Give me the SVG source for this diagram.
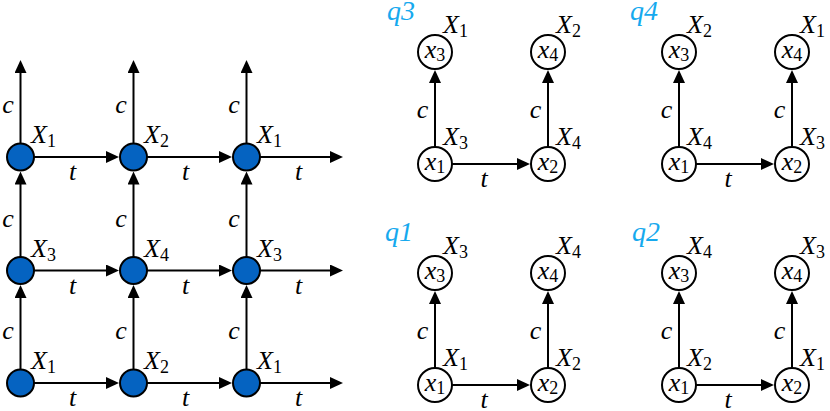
<svg xmlns="http://www.w3.org/2000/svg" width="830" height="411" viewBox="0 0 830 411">
<style>
.i{font-style:italic}
.m{text-anchor:middle}
.s{font-size:18px;font-style:normal}
.q{font-size:28px;font-style:italic;fill:#16a9ee}
.ln{stroke:#000;stroke-width:2;fill:none;marker-end:url(#ah)}
.bn{fill:#0563c1;stroke:#000;stroke-width:2}
.wn{fill:#fff;stroke:#000;stroke-width:2}
</style>
<defs>
<marker id="ah" viewBox="0 0 13 12" refX="7" refY="6" markerWidth="13" markerHeight="12" markerUnits="userSpaceOnUse" orient="auto"><path d="M0,0 L13,6 L0,12 z" fill="#000"/></marker>
</defs>
<g font-family="Liberation Serif, DejaVu Serif, serif" font-size="26" fill="#000">
<g id="connectors">
<line class="ln" x1="20.5" y1="157" x2="20.5" y2="66"/>
<line class="ln" x1="133.5" y1="157" x2="133.5" y2="66"/>
<line class="ln" x1="246.5" y1="157" x2="246.5" y2="66"/>
<line class="ln" x1="20.5" y1="270.5" x2="20.5" y2="177.5"/>
<line class="ln" x1="133.5" y1="270.5" x2="133.5" y2="177.5"/>
<line class="ln" x1="246.5" y1="270.5" x2="246.5" y2="177.5"/>
<line class="ln" x1="20.5" y1="383" x2="20.5" y2="291"/>
<line class="ln" x1="133.5" y1="383" x2="133.5" y2="291"/>
<line class="ln" x1="246.5" y1="383" x2="246.5" y2="291"/>
<line class="ln" x1="20.5" y1="157" x2="113" y2="157"/>
<line class="ln" x1="133.5" y1="157" x2="226" y2="157"/>
<line class="ln" x1="246.5" y1="157" x2="337" y2="157"/>
<line class="ln" x1="20.5" y1="270.5" x2="113" y2="270.5"/>
<line class="ln" x1="133.5" y1="270.5" x2="226" y2="270.5"/>
<line class="ln" x1="246.5" y1="270.5" x2="337" y2="270.5"/>
<line class="ln" x1="20.5" y1="383" x2="113" y2="383"/>
<line class="ln" x1="133.5" y1="383" x2="226" y2="383"/>
<line class="ln" x1="246.5" y1="383" x2="337" y2="383"/>
<line class="ln" x1="435" y1="147" x2="435" y2="76"/>
<line class="ln" x1="548" y1="147" x2="548" y2="76"/>
<line class="ln" x1="452" y1="164" x2="524" y2="164"/>
<line class="ln" x1="679" y1="147" x2="679" y2="76"/>
<line class="ln" x1="792" y1="147" x2="792" y2="76"/>
<line class="ln" x1="696" y1="164" x2="768" y2="164"/>
<line class="ln" x1="435" y1="368" x2="435" y2="297"/>
<line class="ln" x1="548" y1="368" x2="548" y2="297"/>
<line class="ln" x1="452" y1="385" x2="524" y2="385"/>
<line class="ln" x1="679" y1="368" x2="679" y2="297"/>
<line class="ln" x1="792" y1="368" x2="792" y2="297"/>
<line class="ln" x1="696" y1="385" x2="768" y2="385"/>
<text class="i m" x="8" y="113">c</text>
<text class="i m" x="121" y="113">c</text>
<text class="i m" x="234" y="113">c</text>
<text class="i m" x="8" y="226.5">c</text>
<text class="i m" x="121" y="226.5">c</text>
<text class="i m" x="234" y="226.5">c</text>
<text class="i m" x="8" y="339">c</text>
<text class="i m" x="121" y="339">c</text>
<text class="i m" x="234" y="339">c</text>
<text class="i m" x="72.5" y="180">t</text>
<text class="i m" x="185.5" y="180">t</text>
<text class="i m" x="298.5" y="180">t</text>
<text class="i m" x="72.5" y="293.5">t</text>
<text class="i m" x="185.5" y="293.5">t</text>
<text class="i m" x="298.5" y="293.5">t</text>
<text class="i m" x="72.5" y="406">t</text>
<text class="i m" x="185.5" y="406">t</text>
<text class="i m" x="298.5" y="406">t</text>
<text class="i m" x="422.5" y="118">c</text>
<text class="i m" x="535.5" y="118">c</text>
<text class="i m" x="484" y="187">t</text>
<text class="i m" x="666.5" y="118">c</text>
<text class="i m" x="779.5" y="118">c</text>
<text class="i m" x="728" y="187">t</text>
<text class="i m" x="422.5" y="339">c</text>
<text class="i m" x="535.5" y="339">c</text>
<text class="i m" x="484" y="408">t</text>
<text class="i m" x="666.5" y="339">c</text>
<text class="i m" x="779.5" y="339">c</text>
<text class="i m" x="728" y="408">t</text>
</g>
<g id="g00"><circle class="bn" cx="20.5" cy="157" r="13.5"/><text class="i" x="31" y="143">X<tspan class="s" dy="4">1</tspan></text></g>
<g id="g01"><circle class="bn" cx="133.5" cy="157" r="13.5"/><text class="i" x="144" y="143">X<tspan class="s" dy="4">2</tspan></text></g>
<g id="g02"><circle class="bn" cx="246.5" cy="157" r="13.5"/><text class="i" x="257" y="143">X<tspan class="s" dy="4">1</tspan></text></g>
<g id="g10"><circle class="bn" cx="20.5" cy="270.5" r="13.5"/><text class="i" x="31" y="256.5">X<tspan class="s" dy="4">3</tspan></text></g>
<g id="g11"><circle class="bn" cx="133.5" cy="270.5" r="13.5"/><text class="i" x="144" y="256.5">X<tspan class="s" dy="4">4</tspan></text></g>
<g id="g12"><circle class="bn" cx="246.5" cy="270.5" r="13.5"/><text class="i" x="257" y="256.5">X<tspan class="s" dy="4">3</tspan></text></g>
<g id="g20"><circle class="bn" cx="20.5" cy="383" r="13.5"/><text class="i" x="31" y="369">X<tspan class="s" dy="4">1</tspan></text></g>
<g id="g21"><circle class="bn" cx="133.5" cy="383" r="13.5"/><text class="i" x="144" y="369">X<tspan class="s" dy="4">2</tspan></text></g>
<g id="g22"><circle class="bn" cx="246.5" cy="383" r="13.5"/><text class="i" x="257" y="369">X<tspan class="s" dy="4">1</tspan></text></g>
<g id="title-q3"><text class="q" x="387" y="20">q3</text></g>
<g id="title-q4"><text class="q" x="630" y="20">q4</text></g>
<g id="title-q1"><text class="q" x="385" y="241">q1</text></g>
<g id="title-q2"><text class="q" x="632" y="241">q2</text></g>
<g id="q3-x3"><circle class="wn" cx="435" cy="52" r="17"/><text class="i m" x="435" y="58">x<tspan class="s" dy="3">3</tspan></text><text class="i" x="443" y="33">X<tspan class="s" dy="4">1</tspan></text></g>
<g id="q3-x4"><circle class="wn" cx="548" cy="52" r="17"/><text class="i m" x="548" y="58">x<tspan class="s" dy="3">4</tspan></text><text class="i" x="556" y="33">X<tspan class="s" dy="4">2</tspan></text></g>
<g id="q3-x1"><circle class="wn" cx="435" cy="164" r="17"/><text class="i m" x="435" y="170">x<tspan class="s" dy="3">1</tspan></text><text class="i" x="443" y="145">X<tspan class="s" dy="4">3</tspan></text></g>
<g id="q3-x2"><circle class="wn" cx="548" cy="164" r="17"/><text class="i m" x="548" y="170">x<tspan class="s" dy="3">2</tspan></text><text class="i" x="556" y="145">X<tspan class="s" dy="4">4</tspan></text></g>
<g id="q4-x3"><circle class="wn" cx="679" cy="52" r="17"/><text class="i m" x="679" y="58">x<tspan class="s" dy="3">3</tspan></text><text class="i" x="687" y="33">X<tspan class="s" dy="4">2</tspan></text></g>
<g id="q4-x4"><circle class="wn" cx="792" cy="52" r="17"/><text class="i m" x="792" y="58">x<tspan class="s" dy="3">4</tspan></text><text class="i" x="800" y="33">X<tspan class="s" dy="4">1</tspan></text></g>
<g id="q4-x1"><circle class="wn" cx="679" cy="164" r="17"/><text class="i m" x="679" y="170">x<tspan class="s" dy="3">1</tspan></text><text class="i" x="687" y="145">X<tspan class="s" dy="4">4</tspan></text></g>
<g id="q4-x2"><circle class="wn" cx="792" cy="164" r="17"/><text class="i m" x="792" y="170">x<tspan class="s" dy="3">2</tspan></text><text class="i" x="800" y="145">X<tspan class="s" dy="4">3</tspan></text></g>
<g id="q1-x3"><circle class="wn" cx="435" cy="273" r="17"/><text class="i m" x="435" y="279">x<tspan class="s" dy="3">3</tspan></text><text class="i" x="443" y="254">X<tspan class="s" dy="4">3</tspan></text></g>
<g id="q1-x4"><circle class="wn" cx="548" cy="273" r="17"/><text class="i m" x="548" y="279">x<tspan class="s" dy="3">4</tspan></text><text class="i" x="556" y="254">X<tspan class="s" dy="4">4</tspan></text></g>
<g id="q1-x1"><circle class="wn" cx="435" cy="385" r="17"/><text class="i m" x="435" y="391">x<tspan class="s" dy="3">1</tspan></text><text class="i" x="443" y="366">X<tspan class="s" dy="4">1</tspan></text></g>
<g id="q1-x2"><circle class="wn" cx="548" cy="385" r="17"/><text class="i m" x="548" y="391">x<tspan class="s" dy="3">2</tspan></text><text class="i" x="556" y="366">X<tspan class="s" dy="4">2</tspan></text></g>
<g id="q2-x3"><circle class="wn" cx="679" cy="273" r="17"/><text class="i m" x="679" y="279">x<tspan class="s" dy="3">3</tspan></text><text class="i" x="687" y="254">X<tspan class="s" dy="4">4</tspan></text></g>
<g id="q2-x4"><circle class="wn" cx="792" cy="273" r="17"/><text class="i m" x="792" y="279">x<tspan class="s" dy="3">4</tspan></text><text class="i" x="800" y="254">X<tspan class="s" dy="4">3</tspan></text></g>
<g id="q2-x1"><circle class="wn" cx="679" cy="385" r="17"/><text class="i m" x="679" y="391">x<tspan class="s" dy="3">1</tspan></text><text class="i" x="687" y="366">X<tspan class="s" dy="4">2</tspan></text></g>
<g id="q2-x2"><circle class="wn" cx="792" cy="385" r="17"/><text class="i m" x="792" y="391">x<tspan class="s" dy="3">2</tspan></text><text class="i" x="800" y="366">X<tspan class="s" dy="4">1</tspan></text></g>
</g>
</svg>
